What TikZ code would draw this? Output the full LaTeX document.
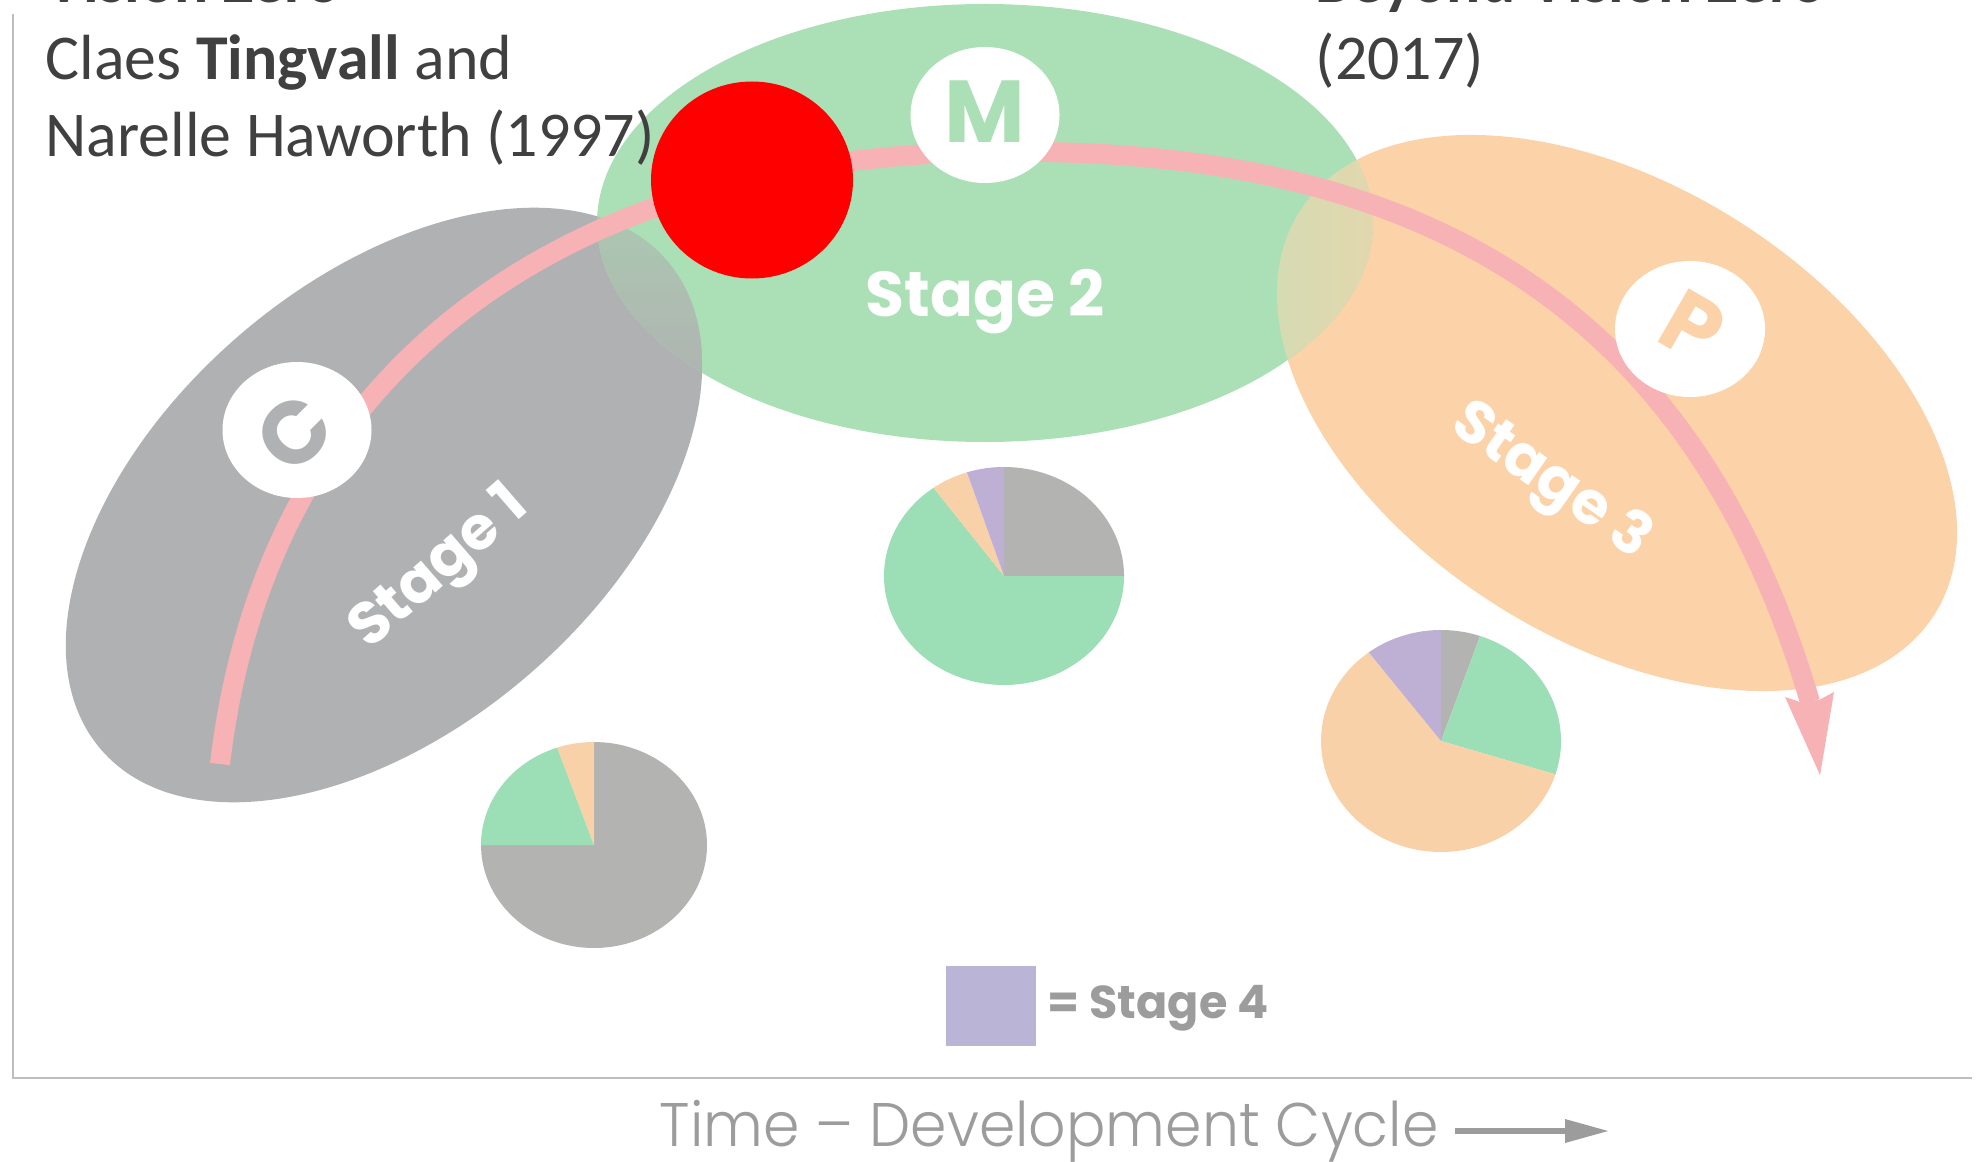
\documentclass[tikz,border=0pt]{standalone}
\usepackage{fontspec}
\setmainfont{Carlito}
\newfontfamily\gothic{Poppins}
\newfontfamily\gothiclight{Poppins Light}
\definecolor{cgray}{HTML}{B0B1B2}
\definecolor{cgreen}{HTML}{ABE0B7}
\definecolor{corange}{HTML}{FCD2A9}
\definecolor{cpink}{HTML}{F7B2B5}
\definecolor{pgray}{HTML}{B3B3B2}
\definecolor{pgreen}{HTML}{9CDEB5}
\definecolor{porange}{HTML}{F9D1A8}
\definecolor{ppurple}{HTML}{BEB0D5}
\definecolor{lpurple}{HTML}{BAB4D6}
\definecolor{axisgray}{HTML}{BEBEBE}
\definecolor{txtgray}{HTML}{9C9C9C}
\definecolor{darktxt}{HTML}{404040}
\definecolor{ovA}{HTML}{ABC9B1}
\definecolor{ovB}{HTML}{AFB5B1}
\definecolor{ovC}{HTML}{D6DBB2}
\definecolor{ovD}{HTML}{E2D7AE}
\newcommand{\pieslice}[7]{% colour cx cy rx ry from to
  \fill[#1] (#2,#3) -- plot[domain=#6:#7,samples=50,smooth] ({#2+#4*cos(\x)},{#3-#5*sin(\x)}) -- cycle;}
\tikzset{
  quote/.style={anchor=base west,inner sep=0pt,text=darktxt,font=\fontsize{18.15pt}{21pt}\selectfont},
  quotebold/.style={quote,font=\bfseries\fontsize{18.15pt}{21pt}\selectfont},
  stagelabel/.style={inner sep=0pt,text=white,font=\gothic\bfseries\fontsize{18pt}{20pt}\selectfont},
  stagetilt/.style={stagelabel,font=\gothic\bfseries\fontsize{17pt}{20pt}\selectfont},
  badge/.style={inner sep=0pt,font=\gothic\bfseries\fontsize{25pt}{26pt}\selectfont},
  grayring/.style={x radius=374,y radius=223,rotate=40.9},
  greenring/.style={x radius=388,y radius=219},
  orangering/.style={x radius=376,y radius=227,rotate=-32.4}
}
\begin{document}
\begin{tikzpicture}[x=0.01cm,y=-0.01cm]
\useasboundingbox (0,0) rectangle (1977,1161);
\clip (0,0) rectangle (1977,1161);
\fill[white] (0,0) rectangle (1977,1161);
% axes
\draw[axisgray,line width=0.8pt] (13,14) -- (13,1078) -- (1972,1078);
% stage ellipses
\fill[cgray] (384,505) ellipse[grayring];
\fill[corange] (1617,413) ellipse[orangering];
\fill[cgreen] (985,223) ellipse[greenring];
% overlaps
\begin{scope}
  \clip (384,505) ellipse[grayring];
  \clip (985,223) ellipse[greenring];
  \shade[top color=ovA,bottom color=ovB] (597,200) rectangle (702,372);
\end{scope}
\begin{scope}
  \clip (1617,413) ellipse[orangering];
  \clip (985,223) ellipse[greenring];
  \shade[left color=ovC,right color=ovD] (1275,150) rectangle (1375,360);
\end{scope}
% path
\coordinate (pstart) at (220,764);
\coordinate (ptop) at (1000,152);
\coordinate (pend) at (1810,702);
\draw[cpink,line width=5.7pt] (pstart) .. controls (270,340) and (600,152) .. (ptop) .. controls (1450,146) and (1700,330) .. (pend);
\coordinate (tip) at (1820,775);
\coordinate (barbL) at (1785,697);
\coordinate (barbR) at (1834,692);
\fill[cpink] (tip) -- (barbL) -- (1800,702) -- (1819,700) -- (barbR) -- cycle;
% badges
\fill[white] (297,430) ellipse[x radius=74.5,y radius=68];
\fill[white] (985,115) ellipse[x radius=74.5,y radius=68];
\fill[white] (1690,329) ellipse[x radius=75,y radius=68];
\node[badge,text=cgray,rotate=45] (cbadge) at (294,433) {C};
\node[badge,text=cgreen] (mbadge) at (985,112) {M};
\node[badge,text=corange,rotate=-30] (pbadge) at (1693,326) {P};
% labels
\node[stagetilt,rotate=41] (s1) at (441,570) {Stage 1};
\node[stagelabel] (s2) at (985,302) {Stage 2};
\node[stagetilt,rotate=-35] (s3) at (1550,483) {Stage 3};
% red dot
\fill[red] (752,180) ellipse[x radius=101,y radius=98.5];
% quotes
\node[quotebold] (v0) at (45,3) {Vision Zero};
\node[quote] (v1) at (45,80) {Claes \textbf{Tingvall} and};
\node[quote] (v2) at (45,156.5) {Narelle Haworth (1997)};
\node[quotebold] (b0) at (1315,3) {Beyond Vision Zero};
\node[quote] (b1) at (1315,80) {(2017)};
% pies
\pieslice{pgray}{594}{845}{113}{103}{90}{-180}
\pieslice{pgreen}{594}{845}{113}{103}{180}{109}
\pieslice{porange}{594}{845}{113}{103}{109}{90}
\pieslice{pgray}{1004}{576}{120}{109}{90}{0}
\pieslice{pgreen}{1004}{576}{120}{109}{0}{-234}
\pieslice{porange}{1004}{576}{120}{109}{126}{108}
\pieslice{ppurple}{1004}{576}{120}{109}{108}{90}
\pieslice{pgray}{1441}{741}{120}{111}{90}{71}
\pieslice{pgreen}{1441}{741}{120}{111}{71}{-17.5}
\pieslice{porange}{1441}{741}{120}{111}{-17.5}{-233}
\pieslice{ppurple}{1441}{741}{120}{111}{127}{90}
% legend
\fill[lpurple] (946,966) rectangle (1036,1046);
\node[anchor=base west,inner sep=0pt,text=txtgray,font=\gothic\bfseries\fontsize{13.1pt}{14pt}\selectfont] (legend) at (1047,1018) {= Stage 4};
% axis title
\node[anchor=base west,inner sep=0pt,text=txtgray,font=\gothiclight\fontsize{17.5pt}{20pt}\selectfont] (timelabel) at (659,1146) {\scalebox{0.95}[1]{Time – Development Cycle}};
\coordinate (ta) at (1455,1131);
\coordinate (tb) at (1570,1131);
\coordinate (tc) at (1608,1131);
\draw[txtgray,line width=1.6pt] (ta) -- (tb);
\fill[txtgray] (tc) -- (1565,1119) -- (1565,1143) -- cycle;
\end{tikzpicture}
\end{document}
